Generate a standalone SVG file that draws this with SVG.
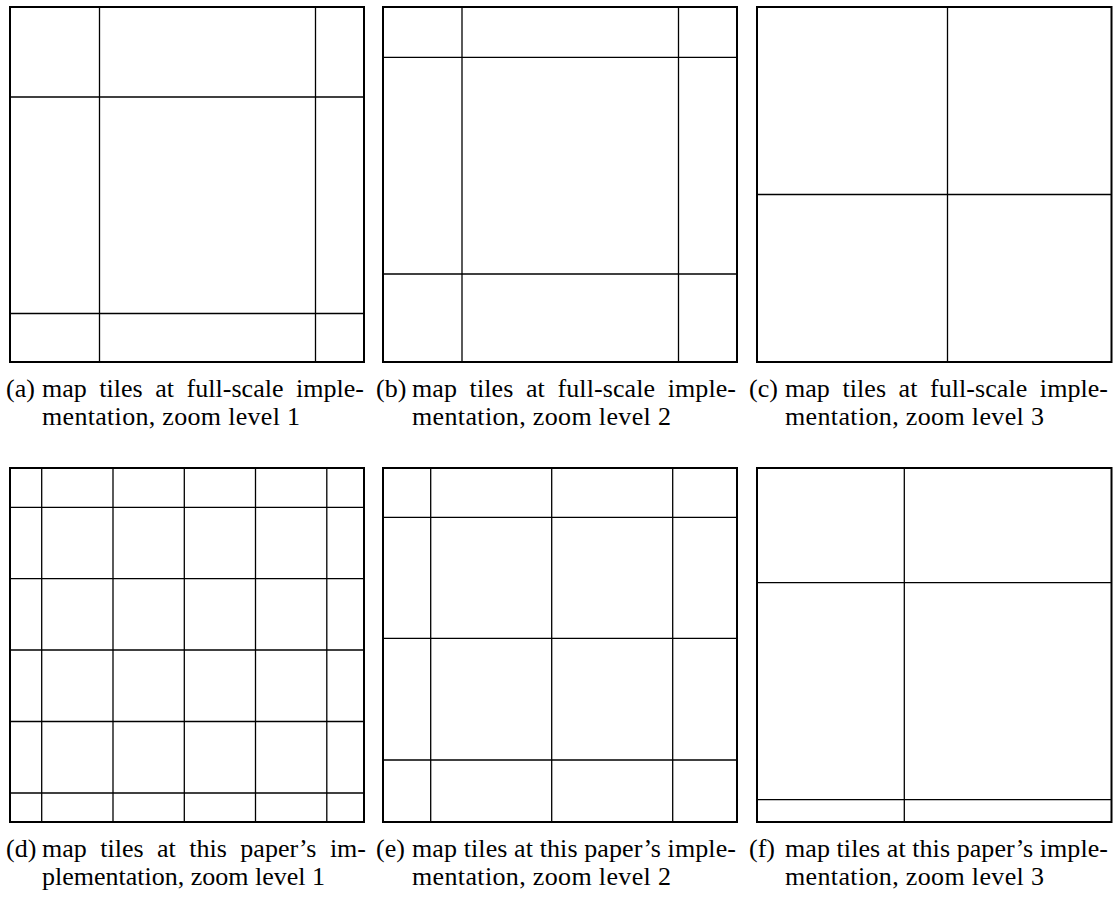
<svg xmlns="http://www.w3.org/2000/svg" width="1116" height="897" viewBox="0 0 1116 897">
<style>
.frame{fill:none;stroke:#000;stroke-width:2}
.grid{stroke:#000;stroke-width:1.3;fill:none}
.cap{font-family:"Liberation Serif","Times New Roman",serif;font-size:26px;fill:#000}
</style>
<rect x="0" y="0" width="1116" height="897" fill="#fff"/>
<g id="panel-a">
<g class="grid">
<line x1="99.5" y1="7" x2="99.5" y2="362"/>
<line x1="315.5" y1="7" x2="315.5" y2="362"/>
<line x1="10" y1="97" x2="364" y2="97"/>
<line x1="10" y1="313.5" x2="364" y2="313.5"/>
</g>
<rect class="frame" x="10" y="7" width="354" height="355"/>
<text class="cap" x="6" y="397">(a)</text>
<text class="cap" x="42" y="397" word-spacing="6" textLength="322" lengthAdjust="spacing">map tiles at full-scale imple-</text>
<text class="cap" x="42" y="425" textLength="258" lengthAdjust="spacing">mentation, zoom level 1</text>
</g>
<g id="panel-b">
<g class="grid">
<line x1="462" y1="7" x2="462" y2="362"/>
<line x1="678.5" y1="7" x2="678.5" y2="362"/>
<line x1="383" y1="57.3" x2="737" y2="57.3"/>
<line x1="383" y1="274" x2="737" y2="274"/>
</g>
<rect class="frame" x="383" y="7" width="354" height="355"/>
<text class="cap" x="376" y="397">(b)</text>
<text class="cap" x="412" y="397" word-spacing="6" textLength="324" lengthAdjust="spacing">map tiles at full-scale imple-</text>
<text class="cap" x="412" y="425" textLength="259" lengthAdjust="spacing">mentation, zoom level 2</text>
</g>
<g id="panel-c">
<g class="grid">
<line x1="947.5" y1="7" x2="947.5" y2="362"/>
<line x1="757" y1="194.5" x2="1111.5" y2="194.5"/>
</g>
<rect class="frame" x="757" y="7" width="354.5" height="355"/>
<text class="cap" x="749" y="397">(c)</text>
<text class="cap" x="785" y="397" word-spacing="6" textLength="323" lengthAdjust="spacing">map tiles at full-scale imple-</text>
<text class="cap" x="785" y="425" textLength="259" lengthAdjust="spacing">mentation, zoom level 3</text>
</g>
<g id="panel-d">
<g class="grid">
<line x1="41.7" y1="468" x2="41.7" y2="822"/>
<line x1="113" y1="468" x2="113" y2="822"/>
<line x1="184.3" y1="468" x2="184.3" y2="822"/>
<line x1="255.5" y1="468" x2="255.5" y2="822"/>
<line x1="326.8" y1="468" x2="326.8" y2="822"/>
<line x1="10" y1="507.3" x2="364" y2="507.3"/>
<line x1="10" y1="578.7" x2="364" y2="578.7"/>
<line x1="10" y1="650" x2="364" y2="650"/>
<line x1="10" y1="721.5" x2="364" y2="721.5"/>
<line x1="10" y1="793" x2="364" y2="793"/>
</g>
<rect class="frame" x="10" y="468" width="354" height="354"/>
<text class="cap" x="6" y="857">(d)</text>
<text class="cap" x="42" y="857" word-spacing="7" textLength="324" lengthAdjust="spacing">map tiles at this paper’s im-</text>
<text class="cap" x="42" y="885" textLength="283" lengthAdjust="spacing">plementation, zoom level 1</text>
</g>
<g id="panel-e">
<g class="grid">
<line x1="430.7" y1="468" x2="430.7" y2="822"/>
<line x1="551.7" y1="468" x2="551.7" y2="822"/>
<line x1="672.7" y1="468" x2="672.7" y2="822"/>
<line x1="383" y1="517.3" x2="737" y2="517.3"/>
<line x1="383" y1="638.3" x2="737" y2="638.3"/>
<line x1="383" y1="760" x2="737" y2="760"/>
</g>
<rect class="frame" x="383" y="468" width="354" height="354"/>
<text class="cap" x="376" y="857">(e)</text>
<text class="cap" x="412" y="857" textLength="324" lengthAdjust="spacing">map tiles at this paper’s imple-</text>
<text class="cap" x="412" y="885" textLength="259" lengthAdjust="spacing">mentation, zoom level 2</text>
</g>
<g id="panel-f">
<g class="grid">
<line x1="904.3" y1="468" x2="904.3" y2="822"/>
<line x1="757" y1="582.7" x2="1111.5" y2="582.7"/>
<line x1="757" y1="799.7" x2="1111.5" y2="799.7"/>
</g>
<rect class="frame" x="757" y="468" width="354.5" height="354"/>
<text class="cap" x="749" y="857">(f)</text>
<text class="cap" x="785" y="857" textLength="323" lengthAdjust="spacing">map tiles at this paper’s imple-</text>
<text class="cap" x="785" y="885" textLength="259" lengthAdjust="spacing">mentation, zoom level 3</text>
</g>
<g id="connectors"/>
</svg>
